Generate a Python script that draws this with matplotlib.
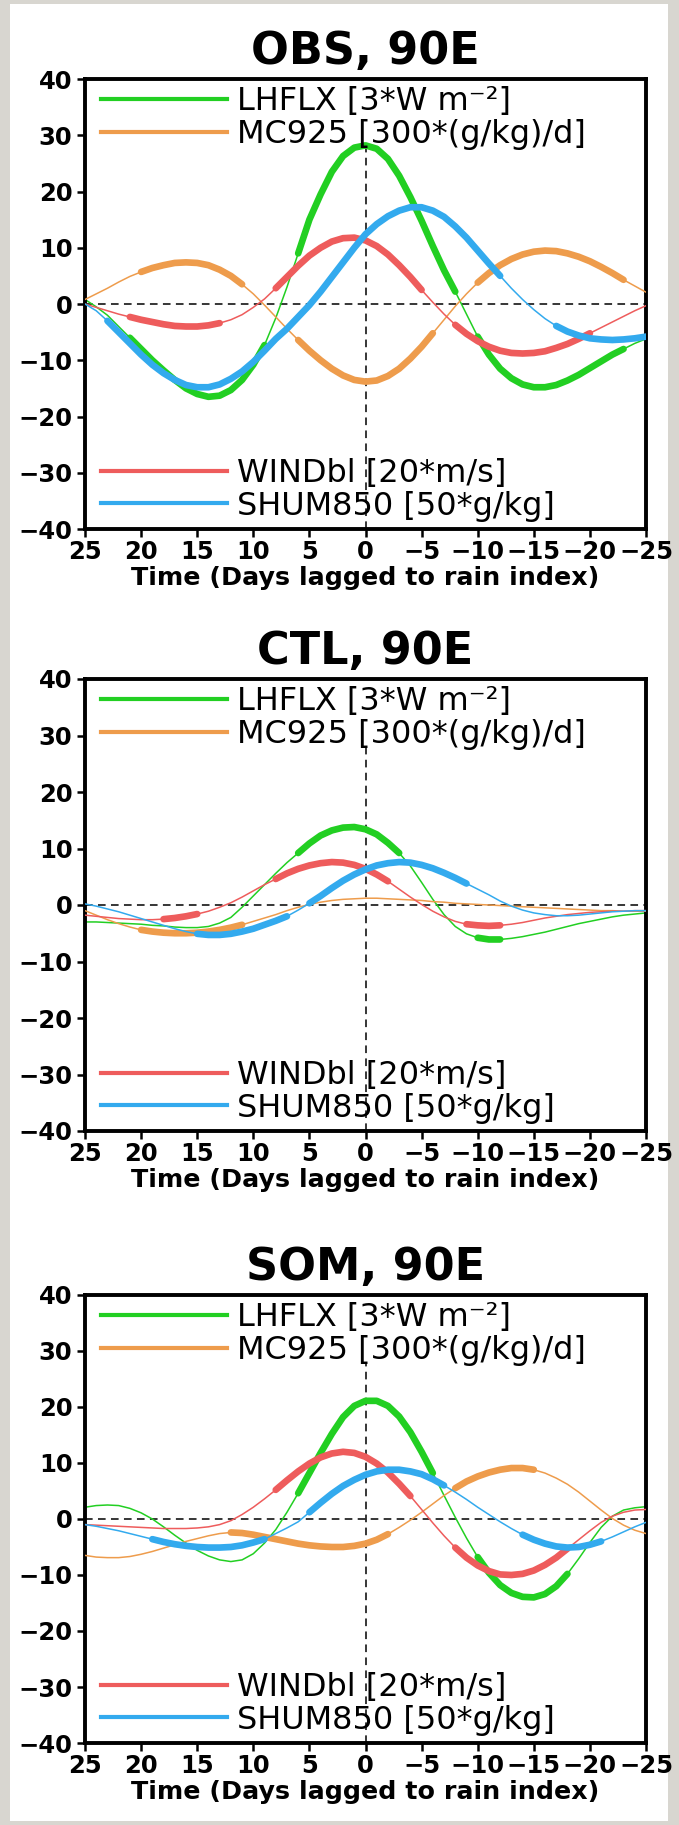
import matplotlib
matplotlib.use("Agg")
import matplotlib.pyplot as plt
import numpy as np
from matplotlib.lines import Line2D
from matplotlib.patches import Rectangle

plt.rcParams['font.family'] = ['DejaVu Sans']

# ---------------- data ----------------
LAGS = list(range(25, -26, -1))  # days lagged to rain index (25 ... -25)

SERIES_NAMES = ["LHFLX", "MC925", "WINDbl", "SHUM850"]
SERIES_LABELS = ["LHFLX [3*W m\u207b\u00b2]", "MC925 [300*(g/kg)/d]",
                 "WINDbl [20*m/s]", "SHUM850 [50*g/kg]"]
PANEL_TITLES = ["OBS, 90E", "CTL, 90E", "SOM, 90E"]
Y_TICKS = [-40, -30, -20, -10, 0, 10, 20, 30, 40]
X_TICKS = [25, 20, 15, 10, 5, 0, -5, -10, -15, -20, -25]
X_LABEL = "Time (Days lagged to rain index)"

# OBS
obs_lhflx = [0.8, -0.5, -2.0, -4.0, -6.0, -8.0, -10.0, -11.8, -13.5, -15.0,
             -16.0, -16.5, -16.3, -15.3, -13.5, -10.8, -7.3, -2.5, 3.0, 9.0,
             15.0, 19.5, 23.5, 26.3, 27.8, 28.2, 27.6, 25.8, 22.8, 19.0,
             14.8, 10.3, 6.0, 2.2, -1.8, -5.8, -9.0, -11.5, -13.2, -14.3,
             -14.8, -14.8, -14.4, -13.6, -12.6, -11.4, -10.2, -9.0, -8.0, -7.0,
             -6.2]
obs_mc925 = [0.8, 1.8, 2.8, 3.9, 4.9, 5.7, 6.4, 6.9, 7.3, 7.4,
             7.3, 6.9, 6.1, 5.0, 3.5, 1.8, -0.2, -2.3, -4.4, -6.4,
             -8.3, -10.0, -11.5, -12.7, -13.5, -13.8, -13.6, -12.8, -11.5, -9.7,
             -7.6, -5.2, -2.8, -0.4, 1.8, 3.8, 5.5, 6.9, 8.0, 8.8,
             9.3, 9.5, 9.4, 9.0, 8.4, 7.6, 6.6, 5.5, 4.3, 3.2,
             2.1]
obs_windbl = [0.0, -0.6, -1.2, -1.8, -2.3, -2.8, -3.2, -3.6, -3.9, -4.0,
              -4.0, -3.8, -3.4, -2.8, -1.9, -0.6, 0.9, 2.8, 4.8, 6.8,
              8.6, 10.0, 11.1, 11.7, 11.8, 11.3, 10.3, 8.8, 6.9, 4.8,
              2.5, 0.3, -1.8, -3.7, -5.3, -6.6, -7.6, -8.3, -8.7, -8.8,
              -8.7, -8.4, -7.8, -7.1, -6.2, -5.2, -4.2, -3.2, -2.2, -1.2,
              -0.3]
obs_shum850 = [0.0, -1.2, -3.0, -5.0, -7.0, -9.0, -10.8, -12.3, -13.5, -14.4,
               -14.8, -14.8, -14.3, -13.3, -12.0, -10.3, -8.3, -6.2, -4.4, -2.3,
               -0.2, 2.2, 4.8, 7.4, 10.0, 12.4, 14.2, 15.6, 16.6, 17.2,
               17.2, 16.6, 15.5, 13.8, 11.8, 9.5, 7.2, 5.0, 2.8, 0.8,
               -1.0, -2.6, -3.9, -4.9, -5.6, -6.1, -6.3, -6.4, -6.3, -6.1,
               -5.8]

# CTL
ctl_lhflx = [-3.0, -3.0, -3.1, -3.2, -3.3, -3.4, -3.6, -3.7, -3.9, -4.0,
             -4.0, -3.8, -3.2, -2.2, -0.4, 1.6, 3.6, 5.6, 7.5, 9.2,
             10.9, 12.3, 13.2, 13.7, 13.8, 13.4, 12.5, 11.0, 9.2, 6.9,
             4.0, 1.0, -1.7, -3.8, -5.1, -5.8, -6.1, -6.1, -5.9, -5.6,
             -5.2, -4.8, -4.3, -3.8, -3.3, -2.9, -2.5, -2.1, -1.8, -1.6,
             -1.4]
ctl_mc925 = [-1.0, -1.8, -2.6, -3.3, -3.9, -4.4, -4.7, -4.9, -5.0, -5.0,
             -4.9, -4.7, -4.4, -4.0, -3.5, -2.9, -2.3, -1.7, -1.0, -0.4,
             0.1, 0.5, 0.8, 1.0, 1.1, 1.2, 1.2, 1.1, 1.0, 0.9,
             0.8, 0.6, 0.5, 0.3, 0.2, 0.1, 0.0, -0.1, -0.2, -0.3,
             -0.4, -0.5, -0.6, -0.7, -0.8, -0.9, -1.0, -1.0, -1.1, -1.1,
             -1.1]
ctl_windbl = [-1.8, -2.0, -2.2, -2.4, -2.5, -2.6, -2.6, -2.5, -2.3, -2.0,
              -1.6, -1.1, -0.4, 0.4, 1.4, 2.5, 3.6, 4.6, 5.6, 6.4,
              7.0, 7.4, 7.6, 7.5, 7.1, 6.4, 5.4, 4.2, 2.8, 1.4,
              0.1, -1.1, -2.1, -2.9, -3.4, -3.6, -3.7, -3.6, -3.4, -3.1,
              -2.7, -2.3, -2.0, -1.7, -1.5, -1.3, -1.2, -1.1, -1.1, -1.0,
              -1.0]
ctl_shum850 = [0.2, -0.2, -0.7, -1.2, -1.8, -2.4, -3.0, -3.6, -4.2, -4.7,
               -5.1, -5.3, -5.3, -5.1, -4.7, -4.2, -3.5, -2.8, -2.0, -0.9,
               0.3, 1.6, 3.0, 4.3, 5.4, 6.3, 7.0, 7.4, 7.6, 7.5,
               7.1, 6.5, 5.7, 4.8, 3.8, 2.8, 1.8, 0.7, -0.2, -0.9,
               -1.4, -1.7, -1.9, -1.9, -1.8, -1.6, -1.4, -1.2, -1.1, -1.0,
               -1.0]

# SOM
som_lhflx = [2.1, 2.4, 2.5, 2.4, 1.9, 1.1, 0.0, -1.4, -2.9, -4.3,
             -5.6, -6.6, -7.3, -7.6, -7.3, -6.2, -4.3, -1.9, 1.2, 4.6,
             8.2, 11.8, 15.2, 18.2, 20.2, 21.1, 21.1, 20.2, 18.3, 15.5,
             12.0, 8.2, 4.2, 0.3, -3.4, -6.8, -9.6, -11.8, -13.2, -13.9,
             -14.0, -13.4, -12.0, -9.8, -7.1, -4.2, -1.5, 0.5, 1.6, 2.0,
             2.2]
som_mc925 = [-6.5, -6.8, -6.9, -6.9, -6.7, -6.3, -5.8, -5.2, -4.6, -4.0,
             -3.5, -3.0, -2.6, -2.4, -2.5, -2.8, -3.2, -3.6, -4.0, -4.4,
             -4.7, -4.9, -5.0, -5.0, -4.8, -4.4, -3.7, -2.7, -1.5, -0.2,
             1.2, 2.7, 4.2, 5.5, 6.7, 7.6, 8.3, 8.8, 9.1, 9.1,
             8.8, 8.2, 7.3, 6.2, 4.8, 3.2, 1.6, 0.1, -1.1, -2.0,
             -2.6]
som_windbl = [-1.0, -1.1, -1.2, -1.3, -1.4, -1.5, -1.6, -1.7, -1.7, -1.7,
              -1.6, -1.4, -1.0, -0.3, 0.8, 2.1, 3.6, 5.2, 6.9, 8.5,
              9.9, 11.0, 11.7, 12.0, 11.8, 11.1, 9.9, 8.3, 6.3, 4.1,
              1.7, -0.7, -3.0, -5.1, -6.9, -8.3, -9.3, -9.9, -10.0, -9.8,
              -9.2, -8.2, -6.9, -5.3, -3.7, -2.1, -0.6, 0.5, 1.2, 1.6,
              1.7]
som_shum850 = [-1.0, -1.3, -1.7, -2.1, -2.6, -3.1, -3.6, -4.1, -4.5, -4.8,
               -5.0, -5.1, -5.1, -5.0, -4.7, -4.2, -3.6, -2.6, -1.6, -0.5,
               1.2, 2.9, 4.5, 5.9, 7.0, 7.9, 8.5, 8.8, 8.8, 8.5,
               8.0, 7.1, 6.0, 4.8, 3.5, 2.1, 0.8, -0.5, -1.7, -2.8,
               -3.7, -4.4, -4.9, -5.1, -5.0, -4.6, -4.0, -3.2, -2.3, -1.4,
               -0.6]

# significant (thick) day ranges, (from_day, to_day)
obs_lhflx_sig = [(21, 9), (6, -8), (-10, -23)]
obs_mc925_sig = [(20, 11), (6, -6), (-10, -23)]
obs_windbl_sig = [(21, 13), (8, -5), (-8, -20)]
obs_shum850_sig = [(23, -12), (-17, -25)]
ctl_lhflx_sig = [(6, -3), (-10, -12)]
ctl_mc925_sig = [(20, 11)]
ctl_windbl_sig = [(18, 15), (8, -2), (-9, -12)]
ctl_shum850_sig = [(15, 7), (5, -9)]
som_lhflx_sig = [(6, -6), (-10, -18)]
som_mc925_sig = [(12, -2), (-8, -15)]
som_windbl_sig = [(8, -4), (-8, -18)]
som_shum850_sig = [(19, 9), (5, -7), (-14, -21)]

# ---------------- style ----------------
COLORS = ['#22cf22', '#ee9c4c', '#ee5c5c', '#33aaee']
THIN = 1.1
THICK = 4.8
FIG_W, FIG_H = 679, 1825

panels = [
    (PANEL_TITLES[0], [obs_lhflx, obs_mc925, obs_windbl, obs_shum850],
     [obs_lhflx_sig, obs_mc925_sig, obs_windbl_sig, obs_shum850_sig], (79, 529)),
    (PANEL_TITLES[1], [ctl_lhflx, ctl_mc925, ctl_windbl, ctl_shum850],
     [ctl_lhflx_sig, ctl_mc925_sig, ctl_windbl_sig, ctl_shum850_sig], (679, 1131)),
    (PANEL_TITLES[2], [som_lhflx, som_mc925, som_windbl, som_shum850],
     [som_lhflx_sig, som_mc925_sig, som_windbl_sig, som_shum850_sig], (1295, 1743)),
]

fig = plt.figure(figsize=(FIG_W / 100, FIG_H / 100), dpi=100)
fig.patch.set_facecolor('#d8d6d0')
fig.add_artist(Rectangle((10 / FIG_W, 4 / FIG_H), 658 / FIG_W, 1817 / FIG_H,
                         transform=fig.transFigure, facecolor='white',
                         edgecolor='none', zorder=-10))

lags = np.array(LAGS)
left_px, right_px = 85, 646

for title, series, sigs, (top_px, bot_px) in panels:
    ax = fig.add_axes([left_px / FIG_W, 1 - bot_px / FIG_H,
                       (right_px - left_px) / FIG_W, (bot_px - top_px) / FIG_H])
    ax.set_facecolor('white')
    ax.set_xlim(25, -25)
    ax.set_ylim(-40, 40)
    ax.axhline(0, color='black', lw=1.1, ls=(0, (5, 3.5)), zorder=1)
    ax.plot([0, 0], [-40, 28], color='black', lw=1.1, ls=(0, (5, 3.5)), zorder=1)

    for k, (vals, sig) in enumerate(zip(series, sigs)):
        v = np.array(vals)
        ax.plot(lags, v, color=COLORS[k], lw=THIN, zorder=2 + k,
                solid_capstyle='round')
        for hi, lo in sig:
            m = (lags <= hi) & (lags >= lo)
            ax.plot(lags[m], v[m], color=COLORS[k], lw=THICK, zorder=2 + k,
                    solid_capstyle='round', solid_joinstyle='round')

    ax.set_xticks(X_TICKS)
    ax.set_xticklabels([str(t).replace('-', '\u2212') for t in X_TICKS])
    ax.set_yticks(Y_TICKS)
    ax.set_yticklabels([str(t).replace('-', '\u2212') for t in Y_TICKS])
    ax.tick_params(direction='out', length=6, width=1.8, labelsize=17.5,
                   pad=3)
    for lab in ax.get_xticklabels() + ax.get_yticklabels():
        lab.set_fontweight('bold')
    ax.tick_params(axis='x', pad=2)
    for s in ax.spines.values():
        s.set_linewidth(2.8)
    ax.set_xlabel(X_LABEL, fontsize=18.3, fontweight='bold', labelpad=1)
    ax.set_title(title, fontsize=32, fontweight='bold', pad=11)

    h_top = [Line2D([], [], color=COLORS[0], lw=3.0),
             Line2D([], [], color=COLORS[1], lw=3.0)]
    h_bot = [Line2D([], [], color=COLORS[2], lw=3.0),
             Line2D([], [], color=COLORS[3], lw=3.0)]
    leg1 = ax.legend(h_top, SERIES_LABELS[:2], loc='upper left', frameon=False,
                     fontsize=23, handlelength=3.95, handletextpad=0.33,
                     labelspacing=0.05, borderaxespad=0.0,
                     bbox_to_anchor=(0.005, 1.012))
    ax.add_artist(leg1)
    ax.legend(h_bot, SERIES_LABELS[2:], loc='lower left', frameon=False,
              fontsize=23, handlelength=3.95, handletextpad=0.33,
              labelspacing=0.05, borderaxespad=0.0,
              bbox_to_anchor=(0.005, -0.012))

fig.savefig('out.png', dpi=100, facecolor=fig.get_facecolor())
